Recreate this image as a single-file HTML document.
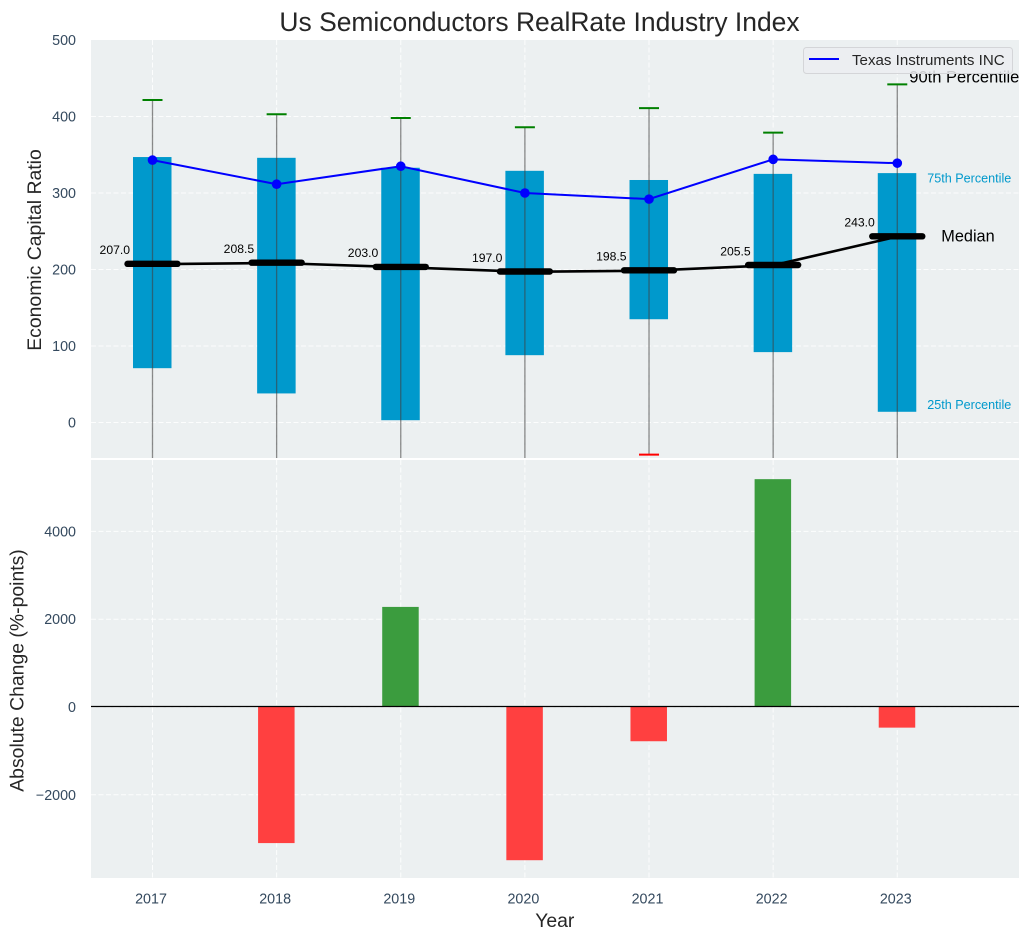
<!DOCTYPE html>
<html>
<head>
<meta charset="utf-8">
<style>
html,body{margin:0;padding:0;background:#fff;width:1030px;height:940px;overflow:hidden}
svg{display:block;font-family:"Liberation Sans",sans-serif}
</style>
</head>
<body>
<svg id="chart" width="1030" height="940" viewBox="0 0 1030 940" xmlns="http://www.w3.org/2000/svg">
<defs>
<clipPath id="top-clip"><rect x="91" y="40" width="928" height="418"></rect></clipPath>
</defs>
<text x="539.5" y="31" text-anchor="middle" font-size="26.45" fill="#262626">Us Semiconductors RealRate Industry Index</text>
<rect x="91" y="40" width="928" height="418" fill="#ecf0f1"></rect>
<rect x="91" y="460" width="928" height="418" fill="#ecf0f1"></rect>
<g id="grid"></g>
<g id="top-marks" clip-path="url(#top-clip)"></g>
<g id="bottom-marks"></g>
<g id="ticks"></g>
<text transform="translate(41,250) rotate(-90)" text-anchor="middle" font-size="19.4" fill="#262626">Economic Capital Ratio</text>
<text transform="translate(23.5,670.5) rotate(-90)" text-anchor="middle" font-size="19.4" fill="#262626">Absolute Change (%-points)</text>
<text x="554.8" y="927" text-anchor="middle" font-size="19.4" fill="#262626">Year</text>
<g id="legend">
<rect x="803.5" y="47.5" width="209" height="26" rx="3" fill="#ecedf1" fill-opacity="0.85" stroke="#d4d5d8"></rect>
<line x1="809" y1="59" x2="839" y2="59" stroke="#0000ff" stroke-width="2"></line>
<text x="852" y="65" font-size="15.1" fill="#262626">Texas Instruments INC</text>
</g>
<script>
const years = [2017, 2018, 2019, 2020, 2021, 2022, 2023];
const p90 = [421.5, 403, 398, 386, 411, 379, 442];
const p75 = [347, 346, 333, 329, 317, 325, 326];
const medians = [207.0, 208.5, 203.0, 197.0, 198.5, 205.5, 243.0];
const p25 = [71, 38, 3, 88, 135, 92, 14];
const p10 = [-60, -75, -90, -70, -42, -65, -80];
const companyValues = [343, 311.5, 335, 300, 292, 344, 339];
const absoluteChange = [null, -3100, 2280, -3490, -780, 5190, -470];
const topTicks = [500, 400, 300, 200, 100, 0];
const bottomTicks = [4000, 2000, 0, -2000];

const SVGNS = 'http://www.w3.org/2000/svg';
const xPos = y => 152.5 + (y - 2017) * 124.13;
const yTop = v => 422.5 - v * 0.765;
const yBot = v => 707 - v * 0.0439;
const BAR_W = 36.5;

function make(parent, tag, attrs, txt) {
  const el = document.createElementNS(SVGNS, tag);
  for (const k in attrs) el.setAttribute(k, attrs[k]);
  if (txt !== undefined) el.textContent = txt;
  parent.appendChild(el);
  return el;
}
const grid = document.getElementById('grid');
const topG = document.getElementById('top-marks');
const botG = document.getElementById('bottom-marks');
const ticksG = document.getElementById('ticks');
const TICKC = '#34495e';

topTicks.forEach(t => {
  if (t !== 500) {
    const g = make(grid, 'line', {x1: 91, x2: 1019, y1: yTop(t), y2: yTop(t), stroke: '#fff', 'stroke-width': 1, 'stroke-dasharray': '5 2.5', 'stroke-opacity': 0.85});
    
    
  }
  const l = make(ticksG, 'text', {x: 76, y: yTop(t) + 5, 'text-anchor': 'end', 'font-size': 14.3, fill: TICKC}, String(t));
  
  
});
bottomTicks.forEach(t => {
  const g = make(grid, 'line', {x1: 91, x2: 1019, y1: yBot(t), y2: yBot(t), stroke: '#fff', 'stroke-width': 1, 'stroke-dasharray': '5 2.5', 'stroke-opacity': 0.85});
  
  
  const l = make(ticksG, 'text', {x: 76, y: yBot(t) + 5, 'text-anchor': 'end', 'font-size': 14.3, fill: TICKC}, String(t).replace('-', '\u2212'));
  
  
});
years.forEach(y => {
  const a = make(grid, 'line', {x1: xPos(y), x2: xPos(y), y1: 40, y2: 458, stroke: '#fff', 'stroke-width': 1, 'stroke-dasharray': '5 2.5', 'stroke-opacity': 0.85});
  
  
  const b = make(grid, 'line', {x1: xPos(y), x2: xPos(y), y1: 460, y2: 878, stroke: '#fff', 'stroke-width': 1, 'stroke-dasharray': '5 2.5', 'stroke-opacity': 0.85});
  
  
  const l = make(ticksG, 'text', {x: xPos(y) - 1.5, y: 903.5, 'text-anchor': 'middle', 'font-size': 14.3, fill: TICKC}, String(y));
  
  
});

years.forEach((y, i) => {
  const x = xPos(y);
  const box = make(topG, 'rect', {x: x - 19.5, y: yTop(p75[i]), width: 38.5, height: yTop(p25[i]) - yTop(p75[i]), fill: '#0099cc'});
  
  
});
years.forEach((y, i) => {
  const x = xPos(y);
  const w = make(topG, 'line', {x1: x, x2: x, y1: yTop(p90[i]), y2: yTop(p10[i]), stroke: '#404040', 'stroke-opacity': 0.6, 'stroke-width': 1.3});
  
  
  const c = make(topG, 'line', {x1: x - 10, x2: x + 10, y1: yTop(p90[i]), y2: yTop(p90[i]), stroke: '#008000', 'stroke-width': 2});
  
  
  const d = make(topG, 'line', {x1: x - 10, x2: x + 10, y1: yTop(p10[i]), y2: yTop(p10[i]), stroke: '#ff0000', 'stroke-width': 2});
  
  
});

const medianLine = make(topG, 'polyline', {points: years.map((y, i) => xPos(y) + ',' + yTop(medians[i])).join(' '), fill: 'none', stroke: '#000', 'stroke-width': 2.6});


const companyLine = make(topG, 'polyline', {points: years.map((y, i) => xPos(y) + ',' + yTop(companyValues[i])).join(' '), fill: 'none', stroke: '#0000ff', 'stroke-width': 2});



years.forEach((y, i) => {
  const x = xPos(y);
  const m = make(topG, 'line', {x1: x - 25, x2: x + 25, y1: yTop(medians[i]) - 0.3, y2: yTop(medians[i]) - 0.3, stroke: '#000', 'stroke-width': 6.4, 'stroke-linecap': 'round'});
  
  
  const p = make(topG, 'circle', {cx: x, cy: yTop(companyValues[i]), r: 4.8, fill: '#0000ff'});
  
  
  const t = make(topG, 'text', {x: x - 37.7, y: yTop(medians[i]) - 10, 'text-anchor': 'middle', 'font-size': 12.2, fill: '#000'}, medians[i].toFixed(1));
  
  
});

const last = years.length - 1;
const lastX = xPos(years[last]);
const a90 = make(topG, 'text', {x: lastX + 12, y: yTop(p90[last]) - 2, 'font-size': 16.5, fill: '#000'}, '90th Percentile');


const a75 = make(topG, 'text', {x: lastX + 30, y: yTop(p75[last]) + 9.5, 'font-size': 12.6, fill: '#0099cc'}, '75th Percentile');


const aMed = make(topG, 'text', {x: lastX + 44, y: yTop(medians[last]) + 5, 'font-size': 16.3, fill: '#000'}, 'Median');


const a25 = make(topG, 'text', {x: lastX + 30, y: yTop(p25[last]) - 3, 'font-size': 12.6, fill: '#0099cc'}, '25th Percentile');



years.forEach((y, i) => {
  const v = absoluteChange[i];
  if (v === null) return;
  const top = Math.min(yBot(v), yBot(0));
  const h = Math.abs(yBot(v) - yBot(0));
  const b = make(botG, 'rect', {x: xPos(y) - BAR_W / 2 - 0.3, y: top, width: BAR_W, height: h, fill: v >= 0 ? '#3b9c3e' : '#ff4040'});
  
  
});
const zero = make(botG, 'line', {x1: 91, x2: 1019, y1: yBot(0) - 0.5, y2: yBot(0) - 0.5, stroke: '#000', 'stroke-width': 1.3});


</script>
</svg>
</body>
</html>
